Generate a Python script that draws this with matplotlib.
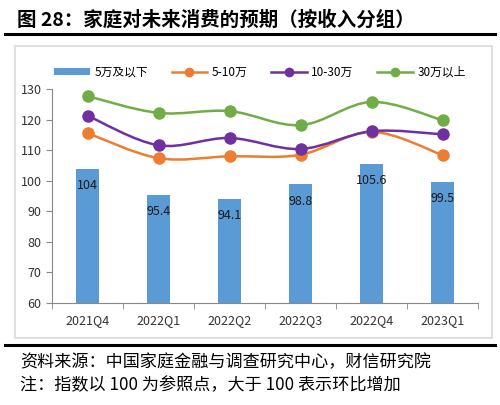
import matplotlib
matplotlib.use('Agg')
import matplotlib.pyplot as plt
from matplotlib.path import Path
from matplotlib.patches import PathPatch, Rectangle
from matplotlib.lines import Line2D

plt.rcParams['font.family'] = ['Noto Sans CJK SC', 'DejaVu Sans']

quarters = ['2021Q4', '2022Q1', '2022Q2', '2022Q3', '2022Q4', '2023Q1']
below_5w = [104, 95.4, 94.1, 98.8, 105.6, 99.5]
w5_10 = [115.6, 107.4, 108.0, 108.5, 116.0, 108.4]
w10_30 = [121.3, 111.6, 114.0, 110.4, 116.2, 115.2]
above_30w = [127.7, 122.2, 122.8, 118.2, 125.8, 119.8]

bar_color = '#5B9BD5'
line_colors = ['#ED7D31', '#7030A0', '#70AD47']
series_names = ['5万及以下', '5-10万', '10-30万', '30万以上']


def smooth_path(xs, ys):
    # Excel style smoothed line as cubic bezier through the points
    verts = [(xs[0], ys[0])]
    codes = [Path.MOVETO]
    n = len(xs)
    for i in range(n - 1):
        x0, y0 = (xs[i - 1], ys[i - 1]) if i > 0 else (xs[i], ys[i])
        x1, y1 = xs[i], ys[i]
        x2, y2 = xs[i + 1], ys[i + 1]
        x3, y3 = (xs[i + 2], ys[i + 2]) if i + 2 < n else (x2, y2)
        c1 = (x1 + (x2 - x0) / 6, y1 + (y2 - y0) / 6)
        c2 = (x2 - (x3 - x1) / 6, y2 - (y3 - y1) / 6)
        verts += [c1, c2, (x2, y2)]
        codes += [Path.CURVE4] * 3
    return Path(verts, codes)


fig = plt.figure(figsize=(5, 4.05), dpi=100)

# title and rules
fig.text(0.034, 0.951, '图 28：家庭对未来消费的预期（按收入分组）', fontsize=14,
         fontweight='bold', va='center', ha='left')
fig.add_artist(Line2D([0.01, 0.99], [0.915, 0.915], color='black', lw=2.2))
fig.add_artist(Line2D([0.01, 0.99], [0.148, 0.148], color='black', lw=2.2))
fig.add_artist(Rectangle((0.03, 0.166), 0.954, 0.72, fill=False,
                         edgecolor='#d9d9d9', lw=1.2))
fig.text(0.04, 0.106, '资料来源：中国家庭金融与调查研究中心，财信研究院', fontsize=12.3,
         va='center', ha='left', style='italic')
fig.text(0.04, 0.048, '注：指数以 100 为参照点，大于 100 表示环比增加', fontsize=12.3,
         va='center', ha='left', style='italic')

ax = fig.add_axes([0.104, 0.252, 0.852, 0.528])
x = list(range(len(quarters)))
bars = ax.bar(x, below_5w, width=0.31, color=bar_color, label=series_names[0], zorder=2)
for xi, v in zip(x, below_5w):
    ax.annotate(f'{v:g}', (xi, v), xytext=(0, -12), textcoords='offset points',
                ha='center', va='center', fontsize=9, color='#1a1a1a', zorder=5)

handles = [bars]
for vals, c, name in zip([w5_10, w10_30, above_30w], line_colors, series_names[1:]):
    ax.add_patch(PathPatch(smooth_path(x, vals), facecolor='none', edgecolor=c,
                           lw=1.8, zorder=3))
    ax.plot(x, vals, linestyle='none', marker='o', markersize=8, color=c, zorder=4)
    handles.append(Line2D([], [], color=c, lw=1.8, marker='o', markersize=6, label=name))

ax.set_xlim(-0.5, 5.5)
ax.set_ylim(60, 130)
ax.set_yticks(range(60, 131, 10))
ax.set_xticks(x)
ax.set_xticklabels(quarters)
ax.set_xticks([i - 0.5 for i in range(len(quarters) + 1)], minor=True)
ax.tick_params(axis='x', which='major', length=0, labelsize=9, pad=8, colors='#333333')
ax.tick_params(axis='x', which='minor', length=4, color='#888888')
ax.tick_params(axis='y', length=4, color='#888888', labelsize=9, colors='#333333')
ax.tick_params(axis='y', colors='#888888', labelcolor='#333333')
for s in ['top', 'right']:
    ax.spines[s].set_visible(False)
for s in ['left', 'bottom']:
    ax.spines[s].set_color('#888888')

fig.legend(handles=handles, labels=series_names, loc='center', ncol=4,
           bbox_to_anchor=(0.52, 0.822), frameon=False, fontsize=8.5,
           handlelength=3.0, columnspacing=2.0, handletextpad=0.4,
           handleheight=0.5)

fig.savefig('out.png', dpi=100)
